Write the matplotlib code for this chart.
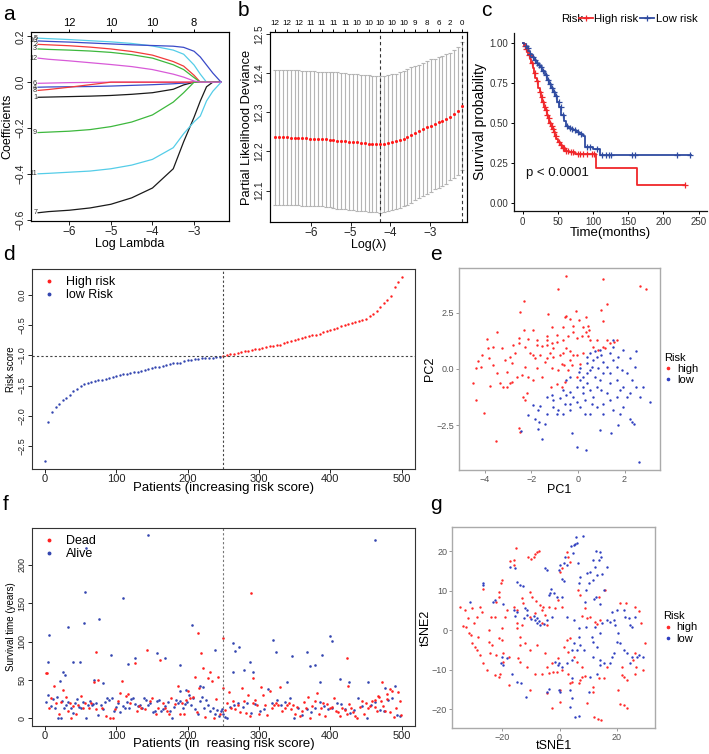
import numpy as np
import matplotlib
matplotlib.use('Agg')
import matplotlib.pyplot as plt
from matplotlib.lines import Line2D

# ---------------- DATA ----------------
# Panel a: LASSO coefficient paths
lam_a = [-6.75, -6.5, -6.0, -5.5, -5.0, -4.5, -4.0, -3.5, -3.25, -3.0, -2.85, -2.7, -2.55, -2.35]
coef_paths = {
    '1':  [-0.066, -0.065, -0.063, -0.061, -0.058, -0.053, -0.046, -0.031, -0.012, 0, 0, 0, 0, 0],
    '2':  [0.165, 0.163, 0.159, 0.153, 0.145, 0.134, 0.118, 0.090, 0.070, 0.030, 0, 0, 0, 0],
    '3':  [0.145, 0.143, 0.140, 0.136, 0.130, 0.120, 0.105, 0.076, 0.055, 0.020, 0, 0, 0, 0],
    '4':  [-0.022, -0.021, -0.020, -0.019, -0.017, -0.014, -0.011, -0.007, -0.004, 0, 0, 0, 0, 0],
    '5':  [0.192, 0.190, 0.186, 0.181, 0.176, 0.169, 0.158, 0.140, 0.122, 0.075, 0.035, 0, 0, 0],
    '6':  [-0.005, -0.004, -0.002, -0.001, 0, 0, 0, 0, 0, 0, 0, 0, 0, 0],
    '7':  [-0.570, -0.565, -0.559, -0.549, -0.533, -0.505, -0.462, -0.378, -0.260, -0.153, -0.082, -0.020, 0, 0],
    '8':  [-0.036, -0.032, -0.022, -0.011, 0, 0, 0, 0, 0, 0, 0, 0, 0, 0],
    '9':  [-0.220, -0.218, -0.214, -0.207, -0.194, -0.174, -0.143, -0.087, -0.046, 0, 0, 0, 0, 0],
    '10': [0.180, 0.178, 0.175, 0.171, 0.167, 0.163, 0.160, 0.157, 0.152, 0.135, 0.110, 0.075, 0.040, 0],
    '11': [-0.400, -0.398, -0.393, -0.388, -0.378, -0.362, -0.337, -0.286, -0.225, -0.173, -0.148, -0.082, -0.040, 0],
    '12': [0.105, 0.100, 0.093, 0.085, 0.077, 0.068, 0.055, 0.035, 0.022, 0.005, 0, 0, 0, 0],
}
top_ticks_a = [-6, -5, -4, -3]
top_labels_a = ['12', '10', '10', '8']

# Panel b: cross-validation deviance
cv_mean = [12.236, 12.236, 12.236, 12.236, 12.235, 12.235, 12.235, 12.234, 12.234, 12.233,
           12.233, 12.232, 12.232, 12.231, 12.230, 12.229, 12.228, 12.227, 12.226, 12.225,
           12.224, 12.223, 12.222, 12.221, 12.220, 12.219, 12.219, 12.218, 12.219, 12.222,
           12.224, 12.226, 12.229, 12.233, 12.237, 12.242, 12.247, 12.252, 12.257, 12.262,
           12.266, 12.270, 12.274, 12.278, 12.283, 12.289, 12.296, 12.304, 12.317]
cv_se = [0.172] * 15 + [0.174] * 13 + [0.173] * 8 + [0.170] * 5 + [0.167] * 4 + [0.163] * 4
cv_top_labels = ['12', '12', '12', '11', '11', '11', '11', '10', '10', '10', '10', '10', '9', '8', '6', '2', '0']
lambda_min = -4.26
lambda_1se = -2.2

# Panel c: Kaplan-Meier
km_high_t = [0, 2, 4, 6, 8, 10, 12, 14, 16, 18, 20, 22, 24, 26, 28, 30, 32, 34, 36, 38, 40, 42, 44, 46,
             48, 50, 53, 56, 60, 66, 75, 104, 163]
km_high_s = [1.0, 0.98, 0.96, 0.94, 0.92, 0.90, 0.87, 0.84, 0.81, 0.78, 0.76, 0.72, 0.69, 0.66, 0.63,
             0.60, 0.58, 0.55, 0.53, 0.50, 0.48, 0.46, 0.44, 0.42, 0.40, 0.38, 0.36, 0.34, 0.325, 0.315,
             0.305, 0.22, 0.11]
km_high_end = 231
km_high_cens = [3, 5, 9, 13, 17, 21, 25, 27, 29, 31, 33, 35, 37, 39, 41, 43, 45, 47, 51, 54, 57, 58, 62,
                64, 68, 72, 78, 82, 86, 92, 98, 101, 231]
km_low_t = [0, 2, 4, 6, 8, 10, 13, 16, 19, 22, 25, 28, 31, 34, 37, 40, 43, 46, 49, 52, 55, 58, 61, 64,
            68, 72, 76, 80, 86, 88, 100, 110]
km_low_s = [1.0, 0.99, 0.98, 0.965, 0.95, 0.93, 0.91, 0.89, 0.875, 0.86, 0.845, 0.82, 0.795, 0.77, 0.74,
            0.72, 0.69, 0.665, 0.63, 0.60, 0.55, 0.51, 0.48, 0.47, 0.46, 0.455, 0.445, 0.43, 0.42, 0.35,
            0.335, 0.30]
km_low_end = 239
km_low_cens = [4, 7, 11, 14, 17, 20, 23, 26, 29, 33, 36, 39, 42, 45, 48, 51, 54, 57, 63, 67, 70, 74, 78,
               83, 92, 96, 105, 113, 118, 122, 125, 155, 160, 220, 238]

# Panel d: sorted risk score (every 5th patient)
risk_score = [-2.75, -2.10, -1.93, -1.86, -1.80, -1.74, -1.70, -1.66, -1.59, -1.55,
              -1.50, -1.48, -1.46, -1.44, -1.43, -1.41, -1.40, -1.39, -1.37, -1.35,
              -1.34, -1.32, -1.31, -1.30, -1.29, -1.28, -1.27, -1.26, -1.24, -1.23,
              -1.21, -1.20, -1.19, -1.17, -1.16, -1.15, -1.13, -1.12, -1.12, -1.10,
              -1.08, -1.07, -1.06, -1.06, -1.05, -1.05, -1.04, -1.04, -1.03, -1.02,
              -1.01, -0.99, -0.98, -0.97, -0.96, -0.94, -0.93, -0.92, -0.91, -0.90,
              -0.89, -0.87, -0.86, -0.85, -0.84, -0.83, -0.82, -0.80, -0.78, -0.76,
              -0.74, -0.73, -0.71, -0.70, -0.68, -0.67, -0.66, -0.64, -0.62, -0.60,
              -0.58, -0.56, -0.54, -0.52, -0.50, -0.48, -0.46, -0.44, -0.43, -0.41,
              -0.39, -0.35, -0.31, -0.26, -0.20, -0.14, -0.08, -0.01, 0.13, 0.22, 0.30]
risk_cut = -1.015
n_cut = 250

# Panel e: PCA
pca_high = [(-0.49, 4.13), (1.09, 4.01), (-0.87, 3.58), (2.66, 3.69), (2.90, 3.58), (-2.31, 3.01),
            (-2.49, 2.52), (1.23, 2.91), (0.97, 2.64), (-0.09, 2.57), (-1.30, 2.45), (-0.51, 2.37),
            (-0.54, 2.30), (-0.34, 2.22), (0.36, 2.30), (0.04, 2.19), (1.09, 2.16), (-1.91, 1.72),
            (-2.31, 1.72), (-3.46, 1.64), (-1.10, 1.85), (-0.63, 1.87), (-0.20, 1.90), (0.23, 1.87),
            (0.44, 1.90), (0.33, 1.67), (0.49, 1.72), (-0.20, 1.63), (-2.51, 1.40), (-2.13, 1.34),
            (-1.34, 1.45), (-0.91, 1.52), (-0.41, 1.45), (0.16, 1.49), (0.44, 1.45), (0.80, 1.30),
            (1.26, 1.27), (1.66, 1.30), (1.56, 1.22), (1.37, 1.15), (-3.91, 1.33), (-3.66, 0.97),
            (-3.84, 0.93), (-4.13, 0.63), (-4.27, 0.37), (-4.17, 0.10), (-4.37, 0.04), (-3.80, 0.48),
            (-3.27, 0.93), (-2.77, 1.07), (-2.70, 0.70), (-2.91, 0.55), (-3.13, 0.40), (-2.84, 0.25),
            (-2.51, 1.15), (-2.27, 1.00), (-1.77, 1.07), (-1.56, 1.03), (-1.34, 1.07), (-1.13, 1.15),
            (-0.91, 1.22), (-1.06, 0.93), (-1.20, 0.70), (-1.34, 0.48), (-1.06, 0.55), (-0.77, 0.63),
            (-0.63, 0.70), (-0.49, 0.93), (-0.34, 0.82), (-0.20, 0.63), (-0.06, 0.63), (0.23, 0.70),
            (-0.34, 0.40), (-0.70, 0.22), (-0.60, 0.18), (-0.41, -0.04), (-0.27, 0.18), (0.09, 0.22),
            (-0.84, -0.04), (-1.13, 0.03), (-1.41, 0.33), (-1.63, 0.63), (-1.84, 0.48), (-1.91, 0.63),
            (-2.06, 0.70), (-2.27, 0.10), (-1.77, 0.03), (-2.13, -0.34), (-1.91, -0.49), (-2.91, -0.64),
            (-3.03, -0.79), (-2.84, -0.57), (-3.34, -0.64), (-3.20, -0.79), (-3.77, -0.75), (-4.49, -0.64),
            (-4.37, -1.39), (-4.03, -1.96), (-3.51, -3.22), (-2.51, -2.63), (-2.49, -2.81), (-2.27, -1.39),
            (-2.17, -1.09), (-2.34, -1.24), (-1.17, -0.79), (-0.91, -0.67), (-0.70, -0.79), (-0.56, -0.57),
            (1.06, 1.00), (0.87, 0.85), (1.16, 0.93), (0.51, 1.30), (0.66, 1.00), (-2.63, -0.34),
            (-2.41, -0.27), (-3.06, -0.12), (-3.49, -0.19), (-3.63, 0.18), (-1.56, -0.34), (-0.06, -0.34),
            (-1.77, 1.30), (-1.34, 1.30), (-0.63, 1.30), (-0.06, 1.37)]
pca_low = [(1.51, 1.30), (1.49, 1.00), (2.49, 0.78), (1.37, 0.70), (1.01, 0.63), (0.80, 0.55), (0.66, 0.40),
           (1.09, 0.33), (1.23, 0.10), (1.51, 0.40), (1.73, 0.55), (1.94, 0.85), (2.23, 0.48), (1.87, -0.04),
           (2.09, -0.19), (2.44, 0.10), (2.30, -0.49), (2.51, -0.79), (2.80, -0.79), (3.09, -1.46),
           (2.66, -1.24), (2.23, -1.09), (1.80, -0.94), (1.66, -1.24), (1.37, -1.39), (1.09, -1.54),
           (0.80, -1.69), (0.51, -1.99), (0.30, -1.99), (0.09, -1.69), (-0.06, -1.46), (-0.34, -1.54),
           (-0.56, -1.54), (-0.84, -1.84), (-0.91, -1.99), (-1.34, -1.99), (-1.63, -1.64), (-1.70, -1.84),
           (-1.91, -1.61), (-1.84, -2.21), (-1.66, -2.36), (-1.41, -2.43), (-1.70, -2.66), (-1.56, -3.13),
           (-2.45, -2.75), (-2.14, -2.03), (-0.27, -2.84), (-0.06, -3.48), (0.34, -3.63), (0.94, -2.73),
           (1.44, -2.84), (1.73, -2.51), (2.23, -2.21), (2.30, -2.36), (2.40, -2.46), (2.63, -4.15),
           (0.23, -0.79), (0.37, -0.64), (0.51, -0.94), (0.66, -1.24), (0.23, -1.09), (-0.06, -0.79),
           (-0.34, -1.01), (-0.20, -1.24), (-0.49, -1.16), (-0.63, -0.94), (-0.77, -1.31), (-1.06, -1.39),
           (-1.13, -1.16), (-1.34, -1.24), (0.51, -0.04), (0.37, -0.19), (0.23, -0.34), (0.09, -0.49),
           (0.06, -0.15), (0.73, -0.34), (0.94, -0.49), (0.80, -0.79), (1.01, -0.94), (1.23, -1.09),
           (1.37, -0.64), (1.66, -0.49), (1.94, -0.79), (2.09, -1.24), (0.37, 0.25), (0.59, 0.10),
           (0.87, 0.03), (-0.34, -0.34), (-0.49, -0.49), (1.66, 0.10), (1.09, -0.19), (1.37, -0.19),
           (0.51, 0.70), (0.73, 0.78), (0.94, 0.85), (0.37, 0.55), (0.09, 0.03), (0.30, -1.39),
           (0.59, -1.54), (-0.63, -1.99), (1.09, -1.99), (1.51, -1.84), (1.94, -1.69), (1.80, -1.99),
           (-1.06, -1.69), (-0.34, -1.84)]

# Panel f: survival time per patient
dead_pts = [(1, 59), (3, 59), (6, 13), (9, 27), (13, 42), (16, 20), (20, 6), (23, 21), (26, 37), (29, 28),
            (32, 10), (35, 20), (37, 0), (40, 16), (43, 5), (47, 17), (50, 29), (53, 13), (56, 20), (62, 13),
            (65, 20), (69, 47), (71, 12), (71, 86), (74, 50), (80, 14), (85, 3), (92, 1), (96, 0), (99, 12),
            (102, 22), (105, 33), (108, 49), (114, 29), (117, 32), (120, 20), (126, 72), (129, 9), (132, 16),
            (135, 13), (141, 12), (143, 89), (147, 22), (150, 27), (156, 6), (159, 13), (162, 76), (165, 20),
            (168, 14), (171, 9), (174, 5), (177, 27), (183, 19), (186, 42), (189, 5), (192, 20), (195, 6),
            (198, 24), (201, 36), (204, 27), (207, 28), (210, 54), (213, 8), (214, 111), (216, 39),
            (219, 85), (222, 66), (225, 2), (228, 52), (231, 60), (234, 48), (237, 1), (240, 25), (243, 54),
            (246, 6), (249, 40), (250, 105), (252, 11), (255, 20), (258, 34), (261, 14), (264, 22),
            (267, 12), (270, 17), (273, 8), (276, 40), (279, 22), (282, 7), (285, 31), (288, 3),
            (289, 163), (291, 20), (292, 52), (294, 24), (297, 18), (300, 5), (303, 41), (306, 31),
            (309, 17), (312, 4), (315, 35), (318, 13), (321, 18), (324, 20), (327, 17), (330, 41),
            (333, 10), (336, 13), (339, 18), (342, 20), (345, 12), (348, 17), (351, 6), (354, 15), (357, 3),
            (360, 9), (363, 21), (366, 13), (369, 28), (372, 1), (375, 16), (378, 22), (381, 33), (384, 6),
            (387, 13), (390, 20), (393, 3), (396, 19), (399, 13), (402, 15), (405, 27), (408, 9), (411, 8),
            (414, 3), (417, 14), (420, 11), (423, 79), (423, 6), (425, 42), (426, 19), (429, 13), (432, 8),
            (435, 3), (438, 1), (441, 15), (444, 22), (447, 5), (450, 20), (453, 13), (456, 16), (459, 22),
            (462, 15), (463, 24), (465, 9), (467, 29), (468, 28), (471, 22), (472, 47), (474, 16), (477, 10),
            (479, 32), (480, 25), (483, 8), (484, 38), (486, 35), (489, 2), (492, 13), (495, 34),
            (497, 22), (499, 4)]
alive_pts = [(144, 239), (58, 222), (462, 232), (56, 164), (110, 157), (76, 130), (33, 119), (55, 124),
             (6, 109), (5, 73), (49, 74), (39, 73), (206, 121), (157, 85), (168, 78), (126, 78), (116, 71),
             (93, 83), (190, 69), (238, 89), (263, 98), (266, 88), (272, 93), (264, 61), (279, 63),
             (320, 102), (324, 86), (347, 81), (287, 73), (292, 61), (367, 86), (372, 68), (379, 70),
             (399, 107), (403, 101), (388, 82), (414, 51), (426, 47), (453, 47), (477, 40), (491, 42),
             (339, 47), (385, 47), (248, 12), (250, 6), (255, 1), (82, 46), (69, 50), (21, 48), (28, 57),
             (26, 60), (189, 35), (198, 37), (217, 42), (222, 41),
             (2, 21), (5, 31), (8, 16), (11, 25), (14, 14), (17, 28), (19, 1), (22, 0), (24, 22), (27, 14),
             (30, 18), (33, 21), (36, 14), (39, 7), (42, 20), (45, 25), (48, 15), (51, 14), (54, 21), (57, 1),
             (60, 18), (63, 22), (66, 17), (68, 19), (72, 20), (75, 4), (78, 18), (81, 12), (84, 21), (87, 27),
             (90, 24), (94, 26), (97, 10), (100, 15), (103, 20), (106, 8), (109, 16), (112, 14), (115, 21),
             (118, 13), (121, 25), (124, 27), (127, 19), (130, 16), (133, 17), (136, 13), (139, 27), (142, 24),
             (145, 17), (148, 20), (151, 8), (154, 10), (157, 22), (160, 24), (163, 9), (166, 12), (169, 16),
             (172, 21), (175, 10), (178, 1), (181, 15), (184, 24), (187, 20), (190, 23), (193, 13), (196, 19),
             (199, 21), (202, 30), (205, 17), (208, 26), (211, 12), (214, 5), (217, 22), (220, 28), (223, 14),
             (226, 24), (229, 18), (232, 10), (235, 14), (238, 6), (241, 11), (244, 3), (247, 10),
             (253, 2), (259, 15), (265, 18), (271, 20), (277, 15), (283, 20), (289, 7), (295, 19), (301, 9),
             (307, 12), (313, 38), (319, 20), (325, 24), (331, 18), (337, 21), (343, 26), (349, 1), (355, 13),
             (361, 4), (367, 12), (373, 8), (379, 14), (385, 21), (391, 16), (397, 12), (403, 13), (409, 20),
             (415, 19), (421, 12), (427, 7), (433, 11), (439, 26), (445, 16), (451, 1), (457, 18), (463, 21),
             (469, 11), (475, 9), (481, 24), (487, 27), (493, 4), (498, 3)]

# Panel g: t-SNE
tsne_high = [(-15.2, 20.8), (-17.2, 17.6), (-16.0, 17.7), (-15.8, 16.6), (-10.8, 18.4), (-9.9, 18.1),
             (-9.0, 18.6), (-7.9, 19.8), (-7.3, 20.1), (-8.5, 19.2), (-20.1, 12.7), (-26.5, 10.5),
             (-20.4, 11.8), (-20.9, 9.7), (-21.2, 8.4), (-22.0, 7.2), (-27.8, 5.9), (-30.5, 5.5),
             (-27.0, 4.6), (-28.8, 3.4), (-29.9, 1.7), (-23.9, 3.4), (-22.4, 3.4), (-18.9, 3.4),
             (-18.1, 5.2), (-14.8, 5.1), (-16.0, 5.9), (-13.1, 8.0), (-12.8, 6.8), (-10.2, 9.7),
             (-9.6, 8.4), (-8.1, 7.4), (-6.7, 6.3), (-6.1, 5.1), (-5.0, 3.8), (-5.8, 5.9), (-3.5, 5.9),
             (-1.5, 5.7), (0.8, 5.9), (-0.7, 7.6), (0.2, 14.8), (0.8, 15.6), (2.6, 19.8), (3.1, 18.6),
             (3.7, 17.3), (6.3, 10.1), (7.2, 8.9), (8.9, 5.5), (7.8, 3.5), (9.5, 3.0), (10.7, 3.4),
             (12.4, 2.1), (13.2, 1.5), (14.2, 2.5), (13.6, 8.4), (15.9, 10.1), (21.1, 6.8), (23.2, 6.9),
             (26.3, 5.9), (27.8, 4.9), (28.3, 1.7), (29.8, -3.4), (26.3, -5.9), (25.5, -7.6), (26.7, -9.3),
             (26.3, -11.0), (29.0, -10.1), (23.4, -12.7), (21.7, -11.4), (22.5, -11.8), (20.5, -15.2),
             (21.1, -18.6), (22.3, -19.0), (23.4, -19.8), (21.7, -9.3), (16.5, -9.3), (15.3, -12.2),
             (13.6, -12.2), (11.8, -14.3), (11.8, -15.6), (9.7, -18.4), (12.1, -21.9), (13.3, -22.4),
             (14.5, -22.8), (7.8, -11.8), (7.2, -12.7), (3.7, -13.5), (4.3, -13.1), (3.1, -11.0),
             (0.8, -10.1), (-0.9, -10.5), (-2.3, -10.7), (-3.8, -10.8), (-6.1, -11.1), (-8.5, -11.2),
             (-11.4, -9.3), (-14.3, -7.2), (-13.7, -8.0), (-17.7, -6.8), (-19.5, -5.9), (-22.0, -6.3),
             (-24.1, -5.9), (-26.5, -8.3), (-25.3, -10.1), (-22.4, -11.4), (-20.6, -11.0), (-21.2, -11.8),
             (-17.7, -13.9), (-19.5, -8.0), (-28.8, -5.1), (-29.4, -4.2), (-30.5, -3.4), (-27.6, -6.3),
             (-28.5, -1.7), (-30.9, -1.3), (-13.7, -1.7), (-13.9, -3.8), (-11.9, -3.4), (-10.2, -5.1),
             (-7.9, -3.8), (-5.0, -5.9), (-4.4, -9.3), (-2.7, -8.4), (-0.7, -7.2), (2.6, -2.5), (3.7, -2.1),
             (1.4, -4.2), (3.1, -5.5), (4.9, -6.8), (6.0, -8.0), (7.8, -9.3), (-4.4, 1.3), (-6.1, 1.7),
             (-8.5, 4.2), (-10.2, 3.4), (-13.1, 1.3), (-14.8, 1.9), (-14.8, 0.4), (-20.1, 0.4),
             (-21.2, -2.1), (-20.1, -2.5), (-24.7, 0.0), (-23.6, -3.8), (-24.7, -3.0), (-2.7, -19.8),
             (6.6, -13.5), (8.9, -11.6), (0.2, -15.2), (-10.2, -15.2), (-4.4, -16.0), (0.0, -18.1),
             (-34.5, 5.9), (-33.5, 1.0), (-32.5, 0.8), (-31.5, -0.8), (-33.0, 5.0), (-32.0, 3.0)]
tsne_low = [(5.8, 23.6), (8.1, 23.9), (5.5, 21.9), (4.9, 21.5), (6.0, 22.1), (3.9, 21.3), (4.6, 19.4),
            (2.0, 18.6), (1.4, 16.9), (2.6, 16.5), (0.2, 16.5), (-0.3, 15.2), (1.4, 12.4), (1.0, 12.9),
            (6.3, 17.0), (9.5, 14.5), (10.7, 14.8), (12.8, 20.1), (14.2, 19.8), (14.5, 18.6), (13.6, 17.7),
            (11.6, 17.7), (12.4, 16.0), (14.7, 14.3), (16.5, 16.0), (13.0, 13.9), (11.8, 12.7), (10.1, 11.8),
            (9.3, 10.1), (6.6, 11.8), (15.3, 10.1), (12.8, 8.3), (12.1, 7.8), (13.9, 6.5), (8.9, 7.2),
            (7.2, 13.5), (-2.9, 10.3), (-3.2, 9.5), (-3.8, 8.9), (-2.1, 9.3), (-0.9, 8.3), (0.8, 8.4),
            (-5.0, 15.6), (-4.4, 15.2), (-14.8, 12.2), (-13.7, 11.4), (-12.8, 11.1), (-17.2, 15.9),
            (-15.4, 15.6), (-26.7, 12.0), (-26.5, 11.4), (-22.4, 7.6), (-23.2, 7.2), (-19.7, 6.6),
            (-16.0, 5.1), (-15.4, 3.6), (-14.8, 4.6), (-11.9, 5.5), (-11.4, 5.2), (-9.0, 3.5), (-8.5, 2.5),
            (-7.9, 3.0), (-7.0, 2.4), (-5.3, 1.5), (-4.4, 2.5), (-2.7, 3.4), (2.6, 3.4), (4.9, 2.5),
            (6.6, 0.4), (9.3, 0.8), (11.3, -1.7), (11.8, -3.0), (13.0, -4.2), (14.2, -0.8), (12.4, 0.8),
            (14.7, 1.7), (16.5, 2.5), (17.6, 2.1), (18.8, 2.5), (19.4, 1.3), (20.0, 5.1), (18.2, 4.6),
            (22.3, 5.1), (22.9, 3.4), (24.0, 3.0), (24.4, 1.3), (26.3, 3.4), (25.2, 0.8), (20.2, -0.8),
            (20.0, -3.0), (21.1, -3.4), (22.3, -5.1), (23.4, -5.9), (24.4, -8.4), (25.2, -6.8), (26.9, -6.8),
            (29.2, -6.8), (27.8, -6.3), (18.8, -5.9), (18.2, -6.8), (17.6, -8.4), (15.3, -8.4), (14.2, -8.9),
            (13.9, -7.6), (11.8, -6.8), (8.4, -5.1), (7.2, -3.8), (6.0, -5.1), (4.9, -3.4), (4.3, -5.1),
            (4.3, -7.6), (6.6, -1.7), (2.6, -8.4), (0.8, -9.3), (-0.7, -8.9), (-1.5, -8.0), (-0.3, -8.4),
            (-0.3, -15.2), (0.2, -15.6), (-3.8, -14.8), (-4.4, -15.6), (-11.6, -17.0), (3.7, -15.2),
            (4.3, -17.1), (3.7, -19.4), (5.5, -21.9), (6.6, -21.8), (10.1, -15.6), (10.7, -11.8),
            (13.0, -11.0), (4.3, -12.2), (-16.6, -11.0), (-14.8, -13.1), (-13.5, -13.5), (-20.1, -6.8),
            (-20.4, -8.3), (-19.5, -8.9), (-18.1, -7.2), (-12.5, 3.0), (-11.4, 3.8), (-10.0, 2.7),
            (-7.9, 1.7), (-6.7, 1.3), (-31.1, 7.2)]

# ---------------- STYLE ----------------
RED = '#FF2020'
BLUE = '#3446B0'
GLM_COLS = ['#1a1a1a', '#F23A3A', '#3DB83D', '#3A4AC8', '#55CDE8', '#D85AD8']

W, H = 709, 754
fig = plt.figure(figsize=(W / 100, H / 100), dpi=100)
plt.rcParams['font.family'] = ['Liberation Sans', 'DejaVu Sans']


def ax_px(l, t, r, b):
    return fig.add_axes([l / W, 1 - b / H, (r - l) / W, (b - t) / H])


def r_style(ax, ytick_rot=True, ysize=8, xsize=8.5, xpad=1.0):
    for s in ax.spines.values():
        s.set_linewidth(0.8)
        s.set_color('#333333')
    ax.tick_params(direction='out', length=3, width=0.7, colors='#222222')
    ax.tick_params(axis='x', labelsize=xsize, pad=xpad)
    ax.tick_params(axis='y', labelsize=ysize, pad=1.0)
    if ytick_rot:
        for lbl in ax.get_yticklabels():
            lbl.set_rotation(90)
            lbl.set_va('center')


def gg_style(ax):
    for s in ax.spines.values():
        s.set_linewidth(1.0)
        s.set_color('#AAAAAA')
    ax.tick_params(direction='out', length=2.5, width=0.6, colors='#888888', labelsize=6.5,
                   labelcolor='#555555', pad=1.0)


def panel_letter(x, y, s):
    fig.text(x / W, 1 - y / H, s, fontsize=15, ha='left', va='center')


# ---------------- Panel a ----------------
ax = ax_px(31, 32, 229, 221)
for i, (lab, vals) in enumerate(coef_paths.items()):
    col = GLM_COLS[i % 6]
    ax.plot(lam_a, vals, color=col, lw=0.9)
    ax.text(lam_a[0] - 0.02, vals[0], lab, ha='right', va='center', fontsize=5.2, color='#333333')
ax.set_xlim(-6.92, -2.16)
ax.set_ylim(-0.606, 0.219)
ax.set_xticks([-6, -5, -4, -3])
ax.set_xticklabels(['\u22126', '\u22125', '\u22124', '\u22123'])
ax.set_yticks([0.2, 0.0, -0.2, -0.4, -0.6])
ax.set_yticklabels(['0.2', '0.0', '\u22120.2', '\u22120.4', '\u22120.6'])
ax.set_xlabel('Log Lambda', fontsize=9, labelpad=0)
ax.set_ylabel('Coefficients', fontsize=9, labelpad=0)
r_style(ax, ysize=7.5, xsize=8.5, xpad=0.5)
ax.yaxis.set_label_coords(-18 / 198, 0.5)
axt = ax.twiny()
axt.set_xlim(ax.get_xlim())
axt.set_xticks(top_ticks_a)
axt.set_xticklabels(top_labels_a)
axt.tick_params(direction='out', length=2.5, width=0.7, labelsize=8, pad=0.3)
panel_letter(3, 14, 'a')

# ---------------- Panel b ----------------
ax = ax_px(270, 32, 467, 222)
lam_b = np.linspace(-6.9, lambda_1se, len(cv_mean))
cm = np.array(cv_mean)
cs = np.array(cv_se)
ax.errorbar(lam_b, cm, yerr=cs, fmt='none', ecolor='#B5B5B5', elinewidth=0.8, capsize=1.6, capthick=0.8)
ax.scatter(lam_b, cm, s=5, color='#FF1A1A', zorder=3, linewidths=0)
ax.axvline(lambda_min, color='#333333', ls=(0, (3, 2.5)), lw=0.8)
ax.axvline(lambda_1se, color='#333333', ls=(0, (3, 2.5)), lw=0.8)
ax.set_xlim(-7.03, -2.07)
ax.set_ylim(12.02, 12.505)
ax.set_xticks([-6, -5, -4, -3])
ax.set_xticklabels(['\u22126', '\u22125', '\u22124', '\u22123'])
ax.set_yticks([12.1, 12.2, 12.3, 12.4, 12.5])
ax.set_xlabel('Log(\u03bb)', fontsize=9, labelpad=0)
ax.set_ylabel('Partial Likelihood Deviance', fontsize=9.3, labelpad=0)
r_style(ax, ysize=7.2, xsize=8.5, xpad=0.5)
ax.yaxis.set_label_coords(-17 / 197, 0.5)
axt = ax.twiny()
axt.set_xlim(ax.get_xlim())
axt.set_xticks(lam_b[::3])
axt.set_xticklabels(cv_top_labels)
axt.tick_params(direction='out', length=2.5, width=0.7, labelsize=5.8, pad=0.8)
panel_letter(238, 10, 'b')


# ---------------- Panel c ----------------
def step_at(ts, ss, t):
    idx = np.searchsorted(np.array(ts), t, side='right') - 1
    return np.array(ss)[idx]


ax = ax_px(514, 33, 707, 211)
KM_RED = '#F0262A'
KM_BLUE = '#2F4BA0'
ax.step(km_high_t + [km_high_end], km_high_s + [km_high_s[-1]], where='post', color=KM_RED, lw=1.3)
ax.step(km_low_t + [km_low_end], km_low_s + [km_low_s[-1]], where='post', color=KM_BLUE, lw=1.3)
ax.plot(km_high_cens, step_at(km_high_t, km_high_s, km_high_cens), '+', color=KM_RED, ms=4.5, mew=0.9)
ax.plot(km_low_cens, step_at(km_low_t, km_low_s, km_low_cens), '+', color=KM_BLUE, ms=4.5, mew=0.9)
ax.text(5, 0.19, 'p < 0.0001', fontsize=9.5, ha='left', va='center', color='#111111')
ax.set_xlim(-12.4, 262)
ax.set_ylim(-0.05, 1.06)
ax.set_xticks([0, 50, 100, 150, 200, 250])
ax.set_yticks([0, 0.25, 0.5, 0.75, 1.0])
ax.set_yticklabels(['0.00', '0.25', '0.50', '0.75', '1.00'])
ax.spines['top'].set_visible(False)
ax.spines['right'].set_visible(False)
for s in ['left', 'bottom']:
    ax.spines[s].set_linewidth(0.9)
    ax.spines[s].set_color('#111111')
ax.tick_params(direction='out', length=2.5, width=0.7, labelsize=7, labelcolor='#333333', pad=1.5)
ax.set_xlabel('Time(months)', fontsize=9.5, labelpad=0.5)
ax.set_ylabel('Survival probability', fontsize=10, labelpad=2)
handles = [Line2D([0], [0], color=KM_RED, lw=1.3, marker='+', ms=4.5, mew=0.9),
           Line2D([0], [0], color=KM_BLUE, lw=1.3, marker='+', ms=4.5, mew=0.9)]
leg = fig.legend(handles, ['High risk', 'Low risk'], loc='center left',
                 bbox_to_anchor=(579 / W, 1 - 19 / H), ncol=2, frameon=False, fontsize=8.2,
                 handlelength=1.2, handletextpad=0.15, columnspacing=0.15, borderpad=0, borderaxespad=0)
fig.text(561 / W, 1 - 19 / H, 'Risk', fontsize=8.2, ha='left', va='center')
panel_letter(481, 10, 'c')

# ---------------- Panel d ----------------
ax = ax_px(32, 269, 415, 469)
rs = np.array(risk_score)
px = np.arange(len(rs)) * 5
low = px < n_cut
ax.scatter(px[low], rs[low], s=3, color=BLUE, linewidths=0)
ax.scatter(px[~low], rs[~low], s=3, color=RED, linewidths=0)
ax.axvline(n_cut, color='#444444', ls=(0, (2, 2)), lw=0.8)
ax.axhline(risk_cut, color='#444444', ls=(0, (2, 2)), lw=0.8)
ax.set_xlim(-18, 518.7)
ax.set_ylim(-2.88, 0.43)
ax.set_xticks([0, 100, 200, 300, 400, 500])
ax.set_yticks([0.0, -0.5, -1.0, -1.5, -2.0, -2.5])
ax.set_yticklabels(['0.0', '\u22120.5', '\u22121.0', '\u22121.5', '\u22122.0', '\u22122.5'])
ax.set_xlabel('Patients (increasing risk score)', fontsize=9.5, labelpad=-1)
ax.set_ylabel('Risk score', fontsize=7, labelpad=1)
r_style(ax, ysize=6.5, xsize=8, xpad=0.5)
hd = [Line2D([0], [0], ls='', marker='o', ms=1.8, color=RED),
      Line2D([0], [0], ls='', marker='o', ms=1.8, color=BLUE)]
ax.legend(hd, ['High risk', 'low Risk'], loc='upper left', frameon=False, fontsize=9,
          handlelength=1.5, handletextpad=0.6, borderaxespad=0.2, labelspacing=0.05)
panel_letter(3, 254, 'd')

# ---------------- Panel e ----------------
ax = ax_px(459, 268, 660, 470)
ph = np.array(pca_high)
pl = np.array(pca_low)
ax.scatter(ph[:, 0], ph[:, 1], s=3, color='#FF2A2A', linewidths=0)
ax.scatter(pl[:, 0], pl[:, 1], s=3, color='#2F3FC0', linewidths=0)
ax.set_xlim(-5.1, 3.52)
ax.set_ylim(-4.5, 4.5)
ax.set_xticks([-4, -2, 0, 2])
ax.set_xticklabels(['\u22124', '\u22122', '0', '2'])
ax.set_yticks([-2.5, 0, 2.5])
ax.set_yticklabels(['\u22122.5', '0.0', '2.5'])
gg_style(ax)
ax.set_xlabel('PC1', fontsize=9, labelpad=0)
ax.set_ylabel('PC2', fontsize=9, labelpad=0)
he = [Line2D([0], [0], ls='', marker='o', ms=1.6, color='#FF2A2A'),
      Line2D([0], [0], ls='', marker='o', ms=1.6, color='#2F3FC0')]
lg = ax.legend(he, ['high', 'low'], title='Risk', loc='center left', bbox_to_anchor=(1.02, 0.5),
               frameon=False, fontsize=8, title_fontsize=8, handlelength=0.8, handletextpad=0.4,
               labelspacing=0.1, borderaxespad=0, borderpad=0)
lg._legend_box.align = 'left'
panel_letter(430, 254, 'e')

# ---------------- Panel f ----------------
ax = ax_px(32, 528, 415, 726)
dp = np.array(dead_pts)
ap = np.array(alive_pts)
ax.scatter(ap[:, 0], ap[:, 1], s=3.5, color=BLUE, linewidths=0)
ax.scatter(dp[:, 0], dp[:, 1], s=3.5, color=RED, linewidths=0)
ax.axvline(n_cut, color='#777777', ls=(0, (2, 2)), lw=0.8)
ax.set_xlim(-18, 518.7)
ax.set_ylim(-10, 248)
ax.set_xticks([0, 100, 200, 300, 400, 500])
ax.set_yticks([0, 50, 100, 150, 200])
ax.set_xlabel('Patients (in  reasing risk score)', fontsize=9.5, labelpad=-1.5)
ax.set_ylabel('Survival time (years)', fontsize=7, labelpad=1)
r_style(ax, ysize=6.5, xsize=8, xpad=0.3)
hf = [Line2D([0], [0], ls='', marker='o', ms=1.8, color=RED),
      Line2D([0], [0], ls='', marker='o', ms=1.8, color=BLUE)]
ax.legend(hf, ['Dead', 'Alive'], loc='upper left', frameon=False, fontsize=9,
          handlelength=1.5, handletextpad=0.6, borderaxespad=0.2, labelspacing=0.05)
panel_letter(3, 505, 'f')

# ---------------- Panel g ----------------
ax = ax_px(452, 527, 655, 728)
th = np.array(tsne_high)
tl = np.array(tsne_low)
ax.scatter(th[:, 0], th[:, 1], s=3, color='#FF2A2A', linewidths=0)
ax.scatter(tl[:, 0], tl[:, 1], s=3, color='#2F3FC0', linewidths=0)
ax.set_xlim(-37.4, 33.2)
ax.set_ylim(-24.8, 26.1)
ax.set_xticks([-20, 0, 20])
ax.set_xticklabels(['\u221220', '0', '20'])
ax.set_yticks([-20, -10, 0, 10, 20])
ax.set_yticklabels(['\u221220', '\u221210', '0', '10', '20'])
gg_style(ax)
ax.set_xlabel('tSNE1', fontsize=9, labelpad=-1)
ax.set_ylabel('tSNE2', fontsize=9, labelpad=0)
lg = ax.legend(he, ['high', 'low'], title='Risk', loc='center left', bbox_to_anchor=(1.04, 0.5),
               frameon=False, fontsize=8, title_fontsize=8, handlelength=0.8, handletextpad=0.4,
               labelspacing=0.1, borderaxespad=0, borderpad=0)
lg._legend_box.align = 'left'
panel_letter(430, 505, 'g')

fig.savefig('out.png', dpi=100)
